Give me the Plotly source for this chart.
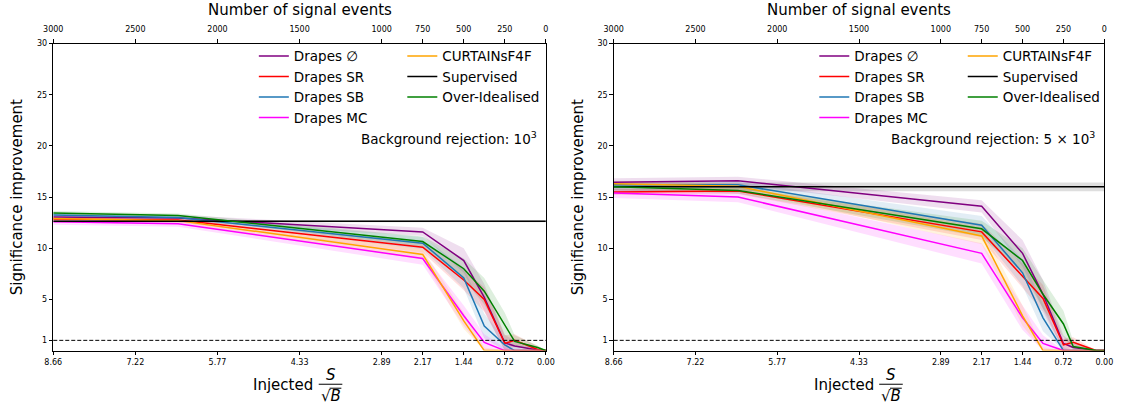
import numpy as np
import plotly.graph_objects as go

# ---------------- data ----------------
B_EVENTS = 120000.0
SQRT_B = np.sqrt(B_EVENTS)

tick_events = [3000, 2500, 2000, 1500, 1000, 750, 500, 250, 0]
tick_sig = [e / SQRT_B for e in tick_events]
tick_sig_text = [f"{v:.2f}" for v in tick_sig]
tick_event_text = [str(e) for e in tick_events]

y_ticks = [1, 5, 10, 15, 20, 25, 30]

# injected signal events at which each method was evaluated
n_signal = [3000, 2240, 750, 500, 375, 250, 190, 50, 0]

series = ["Drapes ∅", "Drapes SR", "Drapes SB", "Drapes MC", "CURTAINsF4F", "Over-Idealised"]
colors = {
    "Drapes ∅": "#800080",
    "Drapes SR": "#ff0000",
    "Drapes SB": "#1f77b4",
    "Drapes MC": "#ff00ff",
    "CURTAINsF4F": "#ffa500",
    "Supervised": "#000000",
    "Over-Idealised": "#008000",
}

# ---- background rejection 1e3 (left) ----
left_mean = {
    "Drapes ∅":       [13.05, 12.95, 11.6, 8.8, 5.2, 0.75, 0.45, 0.05, 0.0],
    "Drapes SR":      [12.85, 12.75, 10.1, 6.9, 5.0, 0.7, 1.0, 0.1, 0.0],
    "Drapes SB":      [13.25, 13.0, 10.5, 7.1, 2.4, 0.55, 0.0, 0.0, 0.0],
    "Drapes MC":      [12.6, 12.4, 9.0, 3.4, 0.8, 0.0, 0.0, 0.0, 0.0],
    "CURTAINsF4F":    [12.9, 12.7, 9.4, 2.9, 0.0, 0.0, 0.0, 0.0, 0.0],
    "Over-Idealised": [13.45, 13.2, 10.65, 8.0, 5.8, 2.4, 0.9, 0.3, 0.0],
}
left_err = {
    "Drapes ∅":       [0.3, 0.3, 0.4, 1.2, 1.3, 0.8, 0.5, 0.2, 0.0],
    "Drapes SR":      [0.2, 0.2, 0.5, 1.0, 1.2, 0.8, 0.6, 0.3, 0.0],
    "Drapes SB":      [0.2, 0.2, 0.6, 1.0, 1.2, 0.6, 0.3, 0.0, 0.0],
    "Drapes MC":      [0.3, 0.3, 0.6, 1.0, 0.8, 0.3, 0.0, 0.0, 0.0],
    "CURTAINsF4F":    [0.2, 0.2, 0.5, 0.8, 0.3, 0.0, 0.0, 0.0, 0.0],
    "Over-Idealised": [0.2, 0.2, 0.5, 1.0, 1.3, 1.3, 0.6, 0.2, 0.0],
}
left_supervised = 12.65
left_supervised_err = 0.12

# ---- background rejection 5e3 (right) ----
right_mean = {
    "Drapes ∅":       [16.45, 16.6, 14.1, 9.5, 5.5, 0.7, 0.3, 0.0, 0.0],
    "Drapes SR":      [15.5, 15.6, 11.6, 7.3, 5.1, 0.55, 0.8, 0.0, 0.0],
    "Drapes SB":      [16.2, 16.2, 12.25, 7.6, 3.2, 0.0, 0.0, 0.0, 0.0],
    "Drapes MC":      [15.4, 15.0, 9.5, 3.2, 0.7, 0.0, 0.0, 0.0, 0.0],
    "CURTAINsF4F":    [16.3, 16.05, 11.2, 3.4, 0.0, 0.0, 0.0, 0.0, 0.0],
    "Over-Idealised": [16.0, 15.65, 11.9, 8.8, 5.5, 2.6, 0.4, 0.0, 0.0],
}
right_err = {
    "Drapes ∅":       [0.4, 0.4, 0.6, 1.3, 1.4, 0.8, 0.4, 0.0, 0.0],
    "Drapes SR":      [0.3, 0.3, 0.8, 1.2, 1.3, 0.6, 0.5, 0.0, 0.0],
    "Drapes SB":      [0.3, 0.3, 0.9, 1.3, 1.3, 0.3, 0.0, 0.0, 0.0],
    "Drapes MC":      [0.5, 0.5, 1.0, 1.2, 0.8, 0.0, 0.0, 0.0, 0.0],
    "CURTAINsF4F":    [0.3, 0.3, 0.8, 1.0, 0.3, 0.0, 0.0, 0.0, 0.0],
    "Over-Idealised": [0.3, 0.3, 0.8, 1.2, 1.4, 1.3, 0.5, 0.0, 0.0],
}
right_supervised = 16.0
right_supervised_err = 0.42

rejection_text = ["Background rejection: 10<sup>3</sup>",
                  "Background rejection: 5 × 10<sup>3</sup>"]

# ---------------- figure ----------------
W, H = 1133, 409
FONT = "DejaVu Sans"


def px_x(p):
    return p / W


def px_y(p):
    return 1 - p / H


panels = [
    dict(x0=44, x1=545, xa="x", xt="x3", ya="y", mean=left_mean, err=left_err,
         sup=left_supervised, sup_err=left_supervised_err, lg1="legend", lg2="legend2",
         rej=rejection_text[0]),
    dict(x0=614, x1=1113, xa="x2", xt="x4", ya="y2", mean=right_mean, err=right_err,
         sup=right_supervised, sup_err=right_supervised_err, lg1="legend3", lg2="legend4",
         rej=rejection_text[1]),
]

x_sig = np.array(n_signal, dtype=float) / SQRT_B
x_full = [tick_sig[0], tick_sig[-1]]

fig = go.Figure()


def hex_rgba(h, a):
    h = h.lstrip("#")
    return f"rgba({int(h[0:2],16)},{int(h[2:4],16)},{int(h[4:6],16)},{a})"


for P in panels:
    col1 = ["Drapes ∅", "Drapes SR", "Drapes SB", "Drapes MC"]
    # bands first
    for name in series:
        m = np.array(P["mean"][name])
        e = np.array(P["err"][name])
        lo = np.clip(m - e, 0, None)
        hi = m + e
        fig.add_trace(go.Scatter(
            x=np.concatenate([x_sig, x_sig[::-1]]), y=np.concatenate([hi, lo[::-1]]),
            fill="toself", fillcolor=hex_rgba(colors[name], 0.13), line=dict(width=0),
            mode="lines", hoverinfo="skip", showlegend=False,
            xaxis=P["xa"], yaxis=P["ya"]))
    # supervised band
    fig.add_trace(go.Scatter(
        x=x_full + x_full[::-1],
        y=[P["sup"] + P["sup_err"]] * 2 + [P["sup"] - P["sup_err"]] * 2,
        fill="toself", fillcolor="rgba(0,0,0,0.13)", line=dict(width=0),
        mode="lines", hoverinfo="skip", showlegend=False,
        xaxis=P["xa"], yaxis=P["ya"]))
    # lines, legend ordering: column1 then column2
    for name in col1:
        fig.add_trace(go.Scatter(
            x=x_sig, y=P["mean"][name], mode="lines", name=name,
            line=dict(color=colors[name], width=1.5),
            legend=P["lg1"], xaxis=P["xa"], yaxis=P["ya"]))
    fig.add_trace(go.Scatter(
        x=x_sig, y=P["mean"]["CURTAINsF4F"], mode="lines", name="CURTAINsF4F",
        line=dict(color=colors["CURTAINsF4F"], width=1.5),
        legend=P["lg2"], xaxis=P["xa"], yaxis=P["ya"]))
    fig.add_trace(go.Scatter(
        x=x_full, y=[P["sup"]] * 2, mode="lines", name="Supervised",
        line=dict(color=colors["Supervised"], width=1.5),
        legend=P["lg2"], xaxis=P["xa"], yaxis=P["ya"]))
    fig.add_trace(go.Scatter(
        x=x_sig, y=P["mean"]["Over-Idealised"], mode="lines", name="Over-Idealised",
        line=dict(color=colors["Over-Idealised"], width=1.5),
        legend=P["lg2"], xaxis=P["xa"], yaxis=P["ya"]))
    # dummy trace so the top axis is drawn
    fig.add_trace(go.Scatter(x=[], y=[], xaxis=P["xt"], yaxis=P["ya"], showlegend=False))

axis_common = dict(
    showline=True, linecolor="black", linewidth=1, ticks="outside", ticklen=3.5,
    tickwidth=1, tickcolor="black", showgrid=False, zeroline=False,
    tickfont=dict(family=FONT, size=8, color="black"),
)

layout = dict(
    width=W, height=H, margin=dict(l=0, r=0, t=0, b=0),
    paper_bgcolor="white", plot_bgcolor="white",
    font=dict(family=FONT, color="black"),
    showlegend=True,
)

ydom = [px_y(350), px_y(40)]
for i, P in enumerate(panels):
    xs = "" if i == 0 else "2"
    dom = [px_x(P["x0"]), px_x(P["x1"])]
    layout["xaxis" + xs] = dict(axis_common, domain=dom, range=[tick_sig[0], tick_sig[-1]],
                                tickvals=tick_sig, ticktext=tick_sig_text, anchor=P["ya"])
    layout["xaxis" + ("3" if i == 0 else "4")] = dict(
        axis_common, domain=dom, range=[tick_sig[0], tick_sig[-1]], tickvals=tick_sig,
        ticktext=tick_event_text, overlaying=P["xa"], side="top", anchor=P["ya"],
        ticklabelstandoff=4)
    layout["yaxis" + xs] = dict(axis_common, domain=ydom, range=[0, 30], tickvals=y_ticks,
                                mirror=True, anchor=P["xa"],
                                title=dict(text="Significance improvement",
                                           font=dict(family=FONT, size=15, color="black"),
                                           standoff=10))
    lg = dict(bgcolor="rgba(0,0,0,0)", borderwidth=0, xanchor="left", yanchor="top",
              font=dict(family=FONT, size=13.5, color="black"), tracegroupgap=0,
              itemwidth=30, y=px_y(37))
    layout[P["lg1"]] = dict(lg, x=px_x(P["x0"] + 204))
    layout[P["lg2"]] = dict(lg, x=px_x(P["x0"] + 355))

fig.update_layout(**layout)

# annotations / shapes
for P in panels:
    x0 = P["x0"]
    cx = (P["x0"] + P["x1"]) / 2
    fig.add_annotation(text="Number of signal events", xref="paper", yref="paper",
                       x=px_x(cx), y=px_y(6), showarrow=False, xanchor="center",
                       yanchor="middle", font=dict(family=FONT, size=15, color="black"))
    fig.add_annotation(text=P["rej"], xref="paper", yref="paper",
                       x=px_x(P["x1"] - 7), y=px_y(135), showarrow=False, xanchor="right",
                       yanchor="middle", font=dict(family=FONT, size=13.5, color="black"))
    # x-axis title: Injected S / sqrt(B)
    fig.add_annotation(text="Injected", xref="paper", yref="paper",
                       x=px_x(x0 + 234), y=px_y(385), showarrow=False, xanchor="center",
                       yanchor="middle", font=dict(family=FONT, size=15, color="black"))
    fig.add_annotation(text="<i>S</i>", xref="paper", yref="paper",
                       x=px_x(x0 + 282), y=px_y(375), showarrow=False, xanchor="center",
                       yanchor="middle", font=dict(family=FONT, size=15, color="black"))
    fig.add_annotation(text="√<i>B</i>", xref="paper", yref="paper",
                       x=px_x(x0 + 282), y=px_y(396), showarrow=False, xanchor="center",
                       yanchor="middle", font=dict(family=FONT, size=15, color="black"))
    fig.add_shape(type="line", xref="paper", yref="paper",
                  x0=px_x(x0 + 270), x1=px_x(x0 + 294), y0=px_y(384), y1=px_y(384),
                  line=dict(color="black", width=1))
    fig.add_shape(type="line", xref="paper", yref="paper",
                  x0=px_x(x0 + 281), x1=px_x(x0 + 293), y0=px_y(388), y1=px_y(388),
                  line=dict(color="black", width=1))
    # dashed reference line at significance improvement of 1
    fig.add_shape(type="line", xref=P["xa"] + " domain", yref=P["ya"], x0=0, x1=1,
                  y0=1, y1=1, line=dict(color="black", width=1, dash="4px,2px"))

fig.write_html("out.html")
